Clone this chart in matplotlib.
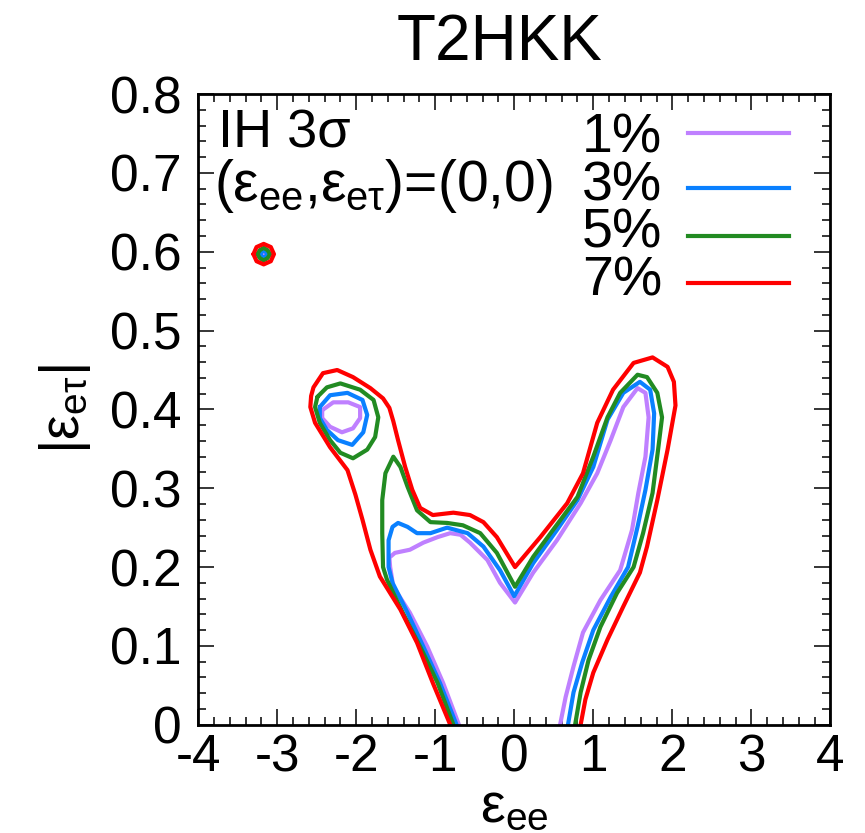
import numpy as np
import matplotlib.pyplot as plt
from matplotlib.ticker import MultipleLocator

plt.rcParams['font.family'] = 'Liberation Sans'
plt.rcParams['mathtext.fontset'] = 'custom'
plt.rcParams['mathtext.rm'] = 'Liberation Sans'
plt.rcParams['mathtext.it'] = 'Liberation Sans'
plt.rcParams['mathtext.bf'] = 'Liberation Sans:bold'

# contour levels and colours
levels = ['1%', '3%', '5%', '7%']
colors = ['#bf80ff', '#0a80ff', '#228b22', '#ff0000']

# 1% contour: main branch, left blob, small island
c1_x = [-0.70, -0.90, -1.10, -1.32, -1.53, -1.57, -1.58, -1.51, -1.32, -1.15,
        -0.97, -0.81, -0.68, -0.56, -0.34, -0.18, 0.01, 0.24, 0.54, 0.84,
        1.05, 1.22, 1.38, 1.56, 1.66, 1.70, 1.66, 1.57, 1.49, 1.34,
        1.09, 0.87, 0.75, 0.65, 0.58]
c1_y = [0, 0.053, 0.099, 0.142, 0.175, 0.200, 0.212, 0.218, 0.222, 0.231,
        0.238, 0.243, 0.241, 0.231, 0.209, 0.180, 0.155, 0.193, 0.234, 0.281,
        0.319, 0.361, 0.403, 0.427, 0.421, 0.390, 0.340, 0.294, 0.247, 0.196,
        0.158, 0.117, 0.074, 0.035, 0]
c1_blob_x = [-2.43, -2.29, -2.10, -1.95, -1.95, -2.04, -2.18, -2.33, -2.43]
c1_blob_y = [0.399, 0.409, 0.409, 0.403, 0.389, 0.376, 0.371, 0.378, 0.389]
c1_dot_x = [-3.19, -3.17, -3.15, -3.17]
c1_dot_y = [0.597, 0.599, 0.597, 0.595]

# 3% contour
c3_x = [-0.73, -0.94, -1.15, -1.35, -1.54, -1.59, -1.59, -1.54, -1.47, -1.35,
        -1.23, -1.06, -0.85, -0.59, -0.39, -0.18, 0.00, 0.24, 0.54, 0.80,
        1.00, 1.18, 1.38, 1.59, 1.72, 1.77, 1.75, 1.66, 1.56, 1.44,
        1.22, 1.00, 0.86, 0.75, 0.68]
c3_y = [0, 0.053, 0.099, 0.142, 0.180, 0.200, 0.234, 0.251, 0.256, 0.251,
        0.243, 0.243, 0.250, 0.243, 0.226, 0.196, 0.163, 0.205, 0.247, 0.285,
        0.327, 0.387, 0.421, 0.435, 0.425, 0.395, 0.349, 0.298, 0.251, 0.200,
        0.162, 0.120, 0.079, 0.041, 0]
c3_blob_x = [-2.46, -2.33, -2.11, -1.92, -1.86, -1.91, -2.05, -2.23, -2.37, -2.46]
c3_blob_y = [0.403, 0.418, 0.421, 0.412, 0.393, 0.371, 0.355, 0.361, 0.374, 0.389]
c3_dot_x = [-3.21, -3.20, -3.17, -3.14, -3.13, -3.14, -3.17, -3.20]
c3_dot_y = [0.597, 0.600, 0.601, 0.600, 0.597, 0.594, 0.593, 0.594]

# 5% contour
c5_x = [-0.77, -0.97, -1.19, -1.41, -1.61, -1.66, -1.67, -1.67, -1.63, -1.53,
        -1.44, -1.35, -1.23, -1.06, -0.85, -0.65, -0.43, -0.22, 0.01, 0.24,
        0.49, 0.80, 1.00, 1.18, 1.34, 1.56, 1.68, 1.81, 1.87, 1.82,
        1.75, 1.63, 1.51, 1.30, 1.09, 0.94, 0.84, 0.77]
c5_y = [0, 0.053, 0.099, 0.142, 0.184, 0.200, 0.243, 0.285, 0.319, 0.340,
        0.327, 0.302, 0.272, 0.257, 0.256, 0.253, 0.243, 0.218, 0.175, 0.213,
        0.247, 0.289, 0.340, 0.390, 0.421, 0.444, 0.441, 0.421, 0.390, 0.349,
        0.294, 0.243, 0.200, 0.167, 0.124, 0.082, 0.041, 0]
c5_blob_x = [-2.49, -2.37, -2.20, -1.95, -1.78, -1.72, -1.76, -1.86, -2.04,
             -2.20, -2.33, -2.46, -2.52]
c5_blob_y = [0.416, 0.428, 0.433, 0.425, 0.412, 0.390, 0.365, 0.349, 0.338,
             0.345, 0.361, 0.383, 0.403]
c5_dot_x = [-3.25, -3.22, -3.17, -3.12, -3.09, -3.12, -3.17, -3.22]
c5_dot_y = [0.597, 0.602, 0.605, 0.602, 0.597, 0.592, 0.589, 0.592]

# 7% contour (no separate blob, one open curve)
c7_x = [-0.81, -1.03, -1.23, -1.44, -1.70, -1.82, -1.92, -2.01, -2.11, -2.33,
        -2.52, -2.58, -2.57, -2.54, -2.42, -2.24, -2.04, -1.82, -1.66, -1.58,
        -1.53, -1.47, -1.38, -1.29, -1.19, -1.03, -0.77, -0.56, -0.39, -0.22,
        0.01, 0.33, 0.67, 0.87, 1.05, 1.25, 1.51, 1.75, 1.94, 2.02,
        2.04, 1.94, 1.81, 1.68, 1.59, 1.38, 1.18, 1.00, 0.90, 0.84]
c7_y = [0, 0.053, 0.104, 0.146, 0.188, 0.222, 0.260, 0.292, 0.323, 0.352,
        0.383, 0.403, 0.417, 0.428, 0.446, 0.450, 0.441, 0.427, 0.414, 0.402,
        0.385, 0.361, 0.327, 0.298, 0.275, 0.266, 0.269, 0.266, 0.257, 0.238,
        0.200, 0.238, 0.281, 0.319, 0.383, 0.425, 0.459, 0.466, 0.454, 0.435,
        0.405, 0.349, 0.285, 0.226, 0.193, 0.150, 0.108, 0.066, 0.032, 0]
c7_dot_x = [-3.30, -3.26, -3.17, -3.08, -3.04, -3.08, -3.17, -3.26]
c7_dot_y = [0.597, 0.606, 0.610, 0.606, 0.597, 0.588, 0.584, 0.588]

xticks = [-4, -3, -2, -1, 0, 1, 2, 3, 4]
xticklabels = ['-4', '-3', '-2', '-1', '0', '1', '2', '3', '4']
yticks = [0, 0.1, 0.2, 0.3, 0.4, 0.5, 0.6, 0.7, 0.8]
yticklabels = ['0', '0.1', '0.2', '0.3', '0.4', '0.5', '0.6', '0.7', '0.8']

contours = [
    [(c1_x, c1_y, False), (c1_blob_x, c1_blob_y, True), (c1_dot_x, c1_dot_y, True)],
    [(c3_x, c3_y, False), (c3_blob_x, c3_blob_y, True), (c3_dot_x, c3_dot_y, True)],
    [(c5_x, c5_y, False), (c5_blob_x, c5_blob_y, True), (c5_dot_x, c5_dot_y, True)],
    [(c7_x, c7_y, False), (c7_dot_x, c7_dot_y, True)],
]

fig = plt.figure(figsize=(8.65, 8.33), dpi=100)
ax = fig.add_axes([0.229, 0.13, 0.731, 0.757])

lw = 3
for pieces, col in zip(contours, colors):
    for xs, ys, closed in pieces:
        xs = list(xs)
        ys = list(ys)
        if closed:
            xs.append(xs[0])
            ys.append(ys[0])
        ax.plot(xs, ys, color=col, lw=lw, solid_joinstyle='round',
                solid_capstyle='round')

ax.set_xlim(-4, 4)
ax.set_ylim(0, 0.8)
ax.set_xticks(xticks)
ax.set_xticklabels(xticklabels)
ax.set_yticks(yticks)
ax.set_yticklabels(yticklabels)
ax.xaxis.set_minor_locator(MultipleLocator(0.2))
ax.yaxis.set_minor_locator(MultipleLocator(0.02))
ax.tick_params(which='both', direction='in', top=True, right=True,
               labelsize=37, width=1.1)
ax.tick_params(which='major', length=11.5)
ax.tick_params(which='minor', length=5.8)
ax.tick_params(axis='x', pad=6)
ax.tick_params(axis='y', pad=12)
for s in ax.spines.values():
    s.set_linewidth(2)

ax.set_xlabel(r'$\mathrm{\epsilon_{ee}}$', fontsize=40, labelpad=0)
ax.set_ylabel(r'$|\mathrm{\epsilon_{e\tau}}|$', fontsize=40, labelpad=12)

fig.text(0.578, 0.928, 'T2HKK', fontsize=46, ha='center', va='baseline')

ax.text(0.032, 0.916, 'IH 3σ', transform=ax.transAxes, fontsize=39,
        ha='left', va='baseline')
ax.text(0.025, 0.83, r'($\epsilon_{ee}$,$\epsilon_{e\tau}$)=(0,0)',
        transform=ax.transAxes, fontsize=41, ha='left', va='baseline')

# key
text_base = [0.908, 0.832, 0.757, 0.681]
line_y = [0.938, 0.851, 0.775, 0.700]
for lab, col, tb, ly in zip(levels, colors, text_base, line_y):
    ax.text(0.734, tb, lab, transform=ax.transAxes, fontsize=40,
            ha='right', va='baseline')
    ax.plot([0.775, 0.934], [ly, ly], color=col, lw=lw,
            transform=ax.transAxes, clip_on=False)

fig.savefig('out.png', dpi=100)
